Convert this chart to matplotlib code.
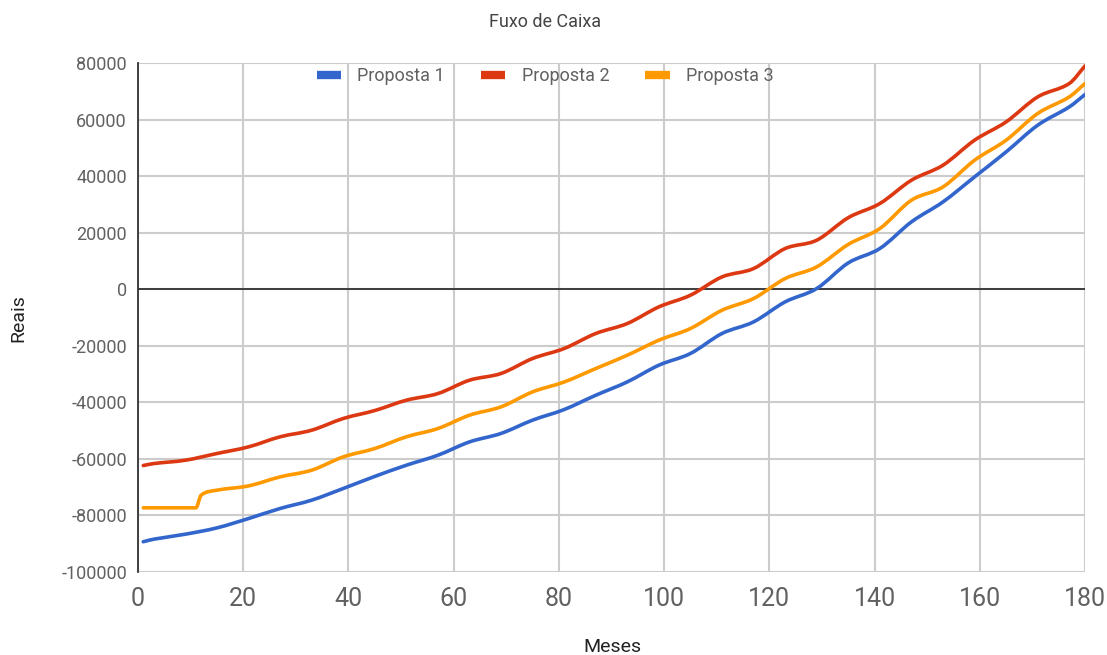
import matplotlib
matplotlib.use("Agg")
import matplotlib.pyplot as plt
from matplotlib.ticker import FuncFormatter, MultipleLocator
from matplotlib.path import Path
from matplotlib.patches import PathPatch
from matplotlib.lines import Line2D

# Data (months, Reais)
meses_p1 = [1, 3, 9, 15, 21, 27, 33, 39, 45, 51, 57, 63, 69, 75, 81, 87, 93, 99,
            105, 111, 117, 123, 129, 135, 141, 147, 153, 159, 165, 171, 177, 180]
proposta1 = [-89300, -88400, -86630, -84400, -81100, -77550, -74600, -70480, -66200,
             -62240, -58700, -54000, -51000, -46300, -42550, -37500, -32770, -26870,
             -22730, -15660, -11550, -4480, 240, 9300, 14390, 23800, 30870, 39710,
             48550, 57990, 64460, 68850]

meses_p2 = meses_p1
proposta2 = [-62350, -61650, -60470, -58100, -55750, -52200, -49860, -45730, -42900,
             -39250, -36900, -32180, -29800, -24500, -20970, -15660, -12130, -6250,
             -2120, 4350, 7310, 14380, 17330, 25300, 30300, 38540, 43850, 52690,
             59170, 68000, 72740, 78960]

meses_p3 = [1, 11, 12, 15, 21, 27, 33, 39, 45, 51, 57, 63, 69, 75, 81, 87, 93, 99,
            105, 111, 117, 123, 129, 135, 141, 147, 153, 159, 165, 171, 177, 180]
proposta3 = [-77300, -77300, -72840, -71070, -69550, -66370, -64000, -59300, -56330,
             -52200, -49270, -44550, -41600, -36300, -32800, -28050, -23340, -18030,
             -13900, -7430, -3300, 3770, 7900, 15850, 21460, 31470, 36170, 45610,
             52690, 62130, 68000, 72740]

series_names = ["Proposta 1", "Proposta 2", "Proposta 3"]
series_colors = ["#3366cc", "#dc3912", "#ff9900"]


def smooth_path(xs, ys):
    """Cubic Bezier path (Catmull-Rom style) through the data points."""
    n = len(xs)
    d = [(ys[i + 1] - ys[i]) / (xs[i + 1] - xs[i]) for i in range(n - 1)]
    m = [0.0] * n
    m[0], m[-1] = d[0], d[-1]
    for i in range(1, n - 1):
        if d[i - 1] * d[i] <= 0:
            m[i] = 0.0
        else:
            m[i] = (ys[i + 1] - ys[i - 1]) / (xs[i + 1] - xs[i - 1])
    verts = [(xs[0], ys[0])]
    codes = [Path.MOVETO]
    for i in range(n - 1):
        h = xs[i + 1] - xs[i]
        verts += [(xs[i] + h / 3, ys[i] + m[i] * h / 3),
                  (xs[i + 1] - h / 3, ys[i + 1] - m[i + 1] * h / 3),
                  (xs[i + 1], ys[i + 1])]
        codes += [Path.CURVE4] * 3
    return Path(verts, codes)


plt.rcParams['font.family'] = ['Roboto', 'DejaVu Sans']

fig = plt.figure(figsize=(11.07, 6.55), dpi=100)
ax = fig.add_axes([138/1107, 1 - 572/655, (1085-138)/1107, (572-63)/655])

handles = []
for x, y, name, c in zip([meses_p1, meses_p2, meses_p3],
                         [proposta1, proposta2, proposta3],
                         series_names, series_colors):
    patch = PathPatch(smooth_path(x, y), facecolor='none', edgecolor=c, lw=2.6,
                      capstyle='round', joinstyle='round', zorder=3,
                      transform=ax.transData)
    ax.add_patch(patch)
    handles.append(Line2D([], [], color=c, lw=6, solid_capstyle='butt', label=name))

ax.set_xlim(0, 180)
ax.set_ylim(-100000, 80000)
ax.xaxis.set_major_locator(MultipleLocator(20))
ax.yaxis.set_major_locator(MultipleLocator(20000))
ax.yaxis.set_major_formatter(FuncFormatter(lambda v, p: f"{int(v)}"))
ax.grid(True, color="#cccccc", lw=1.5)
ax.set_axisbelow(True)
ax.axhline(0, color="#333333", lw=1.3, zorder=2)

for s in ["top", "right", "bottom"]:
    ax.spines[s].set_visible(False)
ax.spines["left"].set_color("#333333")
ax.spines["left"].set_linewidth(1.3)

ax.tick_params(axis='both', length=0)
ax.tick_params(axis='y', labelsize=13, labelcolor="#616161", pad=8)
ax.tick_params(axis='x', labelsize=18, labelcolor="#616161", pad=11)

fig.text(545/1107, 1 - 22/655, "Fuxo de Caixa", ha='center', va='center',
         fontsize=13, color="#444444")
fig.text(18/1107, 1 - 318/655, "Reais", ha='center', va='center', rotation=90,
         fontsize=14, color="#222222")
fig.text(612/1107, 1 - 647/655, "Meses", ha='center', va='center',
         fontsize=14, color="#222222")

leg = fig.legend(handles=handles, loc='center',
                 bbox_to_anchor=(545/1107, 1 - 76/655), ncol=3,
                 frameon=False, fontsize=13, handlelength=1.35, handletextpad=0.9,
                 columnspacing=2.0)
for t in leg.get_texts():
    t.set_color("#616161")

fig.savefig("out.png", dpi=100)
